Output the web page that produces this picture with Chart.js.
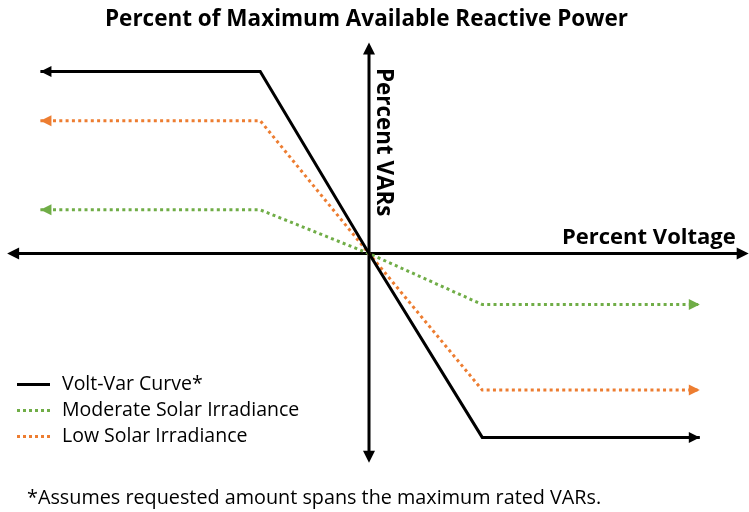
<!DOCTYPE html>
<html>
<head>
<meta charset="utf-8">
<script src="https://cdn.jsdelivr.net/npm/chart.js@4"></script>
<style>
    html, body { margin: 0; padding: 0; background: #fff; }
    #wrap { position: relative; width: 749px; height: 512px; font-family: "Open Sans", sans-serif; color: #000; }
    #wrap canvas { position: absolute; left: 0; top: 0; }
    .txt { position: absolute; white-space: nowrap; }
    #title { left: 0; width: 733px; top: 3px; text-align: center; font-weight: bold; font-size: 22.5px; line-height: 30px; }
    #xLabel { left: 562px; top: 220px; font-weight: bold; font-size: 22px; line-height: 30px; }
    #yLabel { left: 370px; top: 68px; font-weight: bold; font-size: 22.4px; line-height: 30px; writing-mode: vertical-rl; }
    #legend { left: 17px; top: 370px; font-size: 19.5px; line-height: 26px; }
    #legend .sw { display: inline-block; width: 33px; margin-right: 12px; vertical-align: middle; }
    #note { left: 27px; top: 484px; font-size: 19.8px; line-height: 26px; }
</style>
</head>
<body>
<div id="wrap">
    <canvas id="vvChart" width="749" height="512"></canvas>
    <div class="txt" id="title">Percent of Maximum Available Reactive Power</div>
    <div class="txt" id="xLabel">Percent Voltage</div>
    <div class="txt" id="yLabel">Percent VARs</div>
    <div class="txt" id="legend"></div>
    <div class="txt" id="note">*Assumes requested amount spans the maximum rated VARs.</div>
</div>
<script>
// x in per-unit steps of voltage deviation, y in percent of available VARs
const voltagePoints = [-2.96, -0.98, 0, 1.02, 2.98];
const voltVarCurve = [100, 100, 0, -101, -101];
const moderateIrradiance = [24, 24, 0, -28, -28];
const lowIrradiance = [73, 73, 0, -75, -75];

const seriesNames = ['Volt-Var Curve*', 'Moderate Solar Irradiance', 'Low Solar Irradiance'];
const seriesColors = ['#000000', '#70AD47', '#ED7D31'];

// extent of the drawn axes, in data units
const xAxisRange = [-3.26, 3.42];
const yAxisRange = [-115, 116];

function toPoints(values) {
    return voltagePoints.map((x, i) => ({ x: x, y: values[i] }));
}

function drawArrow(ctx, tipX, tipY, angle, len, half, color) {
    ctx.save();
    ctx.translate(tipX, tipY);
    ctx.rotate(angle);
    ctx.fillStyle = color;
    ctx.beginPath();
    ctx.moveTo(0, 0);
    ctx.lineTo(-len, -half);
    ctx.lineTo(-len, half);
    ctx.closePath();
    ctx.fill();
    ctx.restore();
}

// draws the crossing axes and the arrowheads on each curve
const arrowPlugin = {
    id: 'arrows',
    beforeDatasetsDraw(chart) {
        const ctx = chart.ctx;
        const xs = chart.scales.x;
        const ys = chart.scales.y;
        const x0 = xs.getPixelForValue(0);
        const y0 = ys.getPixelForValue(0);
        const left = xs.getPixelForValue(xAxisRange[0]);
        const right = xs.getPixelForValue(xAxisRange[1]);
        const top = ys.getPixelForValue(yAxisRange[1]);
        const bottom = ys.getPixelForValue(yAxisRange[0]);

        ctx.save();
        ctx.strokeStyle = '#000';
        ctx.lineWidth = 3;
        ctx.beginPath();
        ctx.moveTo(left + 8, y0);
        ctx.lineTo(right - 8, y0);
        ctx.moveTo(x0, top + 8);
        ctx.lineTo(x0, bottom - 8);
        ctx.stroke();
        ctx.restore();

        drawArrow(ctx, left, y0, Math.PI, 12, 6, '#000');
        drawArrow(ctx, right, y0, 0, 12, 6, '#000');
        drawArrow(ctx, x0, top, -Math.PI / 2, 12, 6, '#000');
        drawArrow(ctx, x0, bottom, Math.PI / 2, 12, 6, '#000');
    },
    afterDatasetsDraw(chart) {
        const ctx = chart.ctx;
        chart.data.datasets.forEach((ds, i) => {
            const pts = chart.getDatasetMeta(i).data;
            const first = pts[0];
            const last = pts[pts.length - 1];
            drawArrow(ctx, first.x, first.y, Math.PI, 11, 5.5, ds.borderColor);
            drawArrow(ctx, last.x, last.y, 0, 11, 5.5, ds.borderColor);
        });
    }
};

const datasets = [voltVarCurve, moderateIrradiance, lowIrradiance].map((values, i) => ({
    label: seriesNames[i],
    data: toPoints(values),
    borderColor: seriesColors[i],
    borderWidth: 3,
    borderDash: i === 0 ? [] : [3, 3.3],
    showLine: true,
    pointRadius: 0,
    tension: 0,
    borderCapStyle: 'butt'
}));

// draw the dotted lines under the solid one
datasets[0].order = 0;
datasets[1].order = 2;
datasets[2].order = 1;

const ctx = document.getElementById('vvChart').getContext('2d');
const vvChart = new Chart(ctx, {
    type: 'scatter',
    data: { datasets: datasets },
    options: {
        responsive: false,
        animation: false,
        layout: { padding: 0 },
        plugins: {
            legend: { display: false },
            tooltip: { enabled: false }
        },
        scales: {
            x: { type: 'linear', display: false, min: -3.324, max: 3.423 },
            y: { type: 'linear', display: false, min: -142.0, max: 139.3 }
        }
    },
    plugins: [arrowPlugin]
});

// html legend built from the series
const legendBox = document.getElementById('legend');
seriesNames.forEach((name, i) => {
    const row = document.createElement('div');
    const sw = document.createElement('span');
    sw.className = 'sw';
    sw.style.borderTop = i === 0 ? '3px solid ' + seriesColors[i] : '3px dotted ' + seriesColors[i];
    row.appendChild(sw);
    row.appendChild(document.createTextNode(name));
    legendBox.appendChild(row);
});
</script>
</body>
</html>
